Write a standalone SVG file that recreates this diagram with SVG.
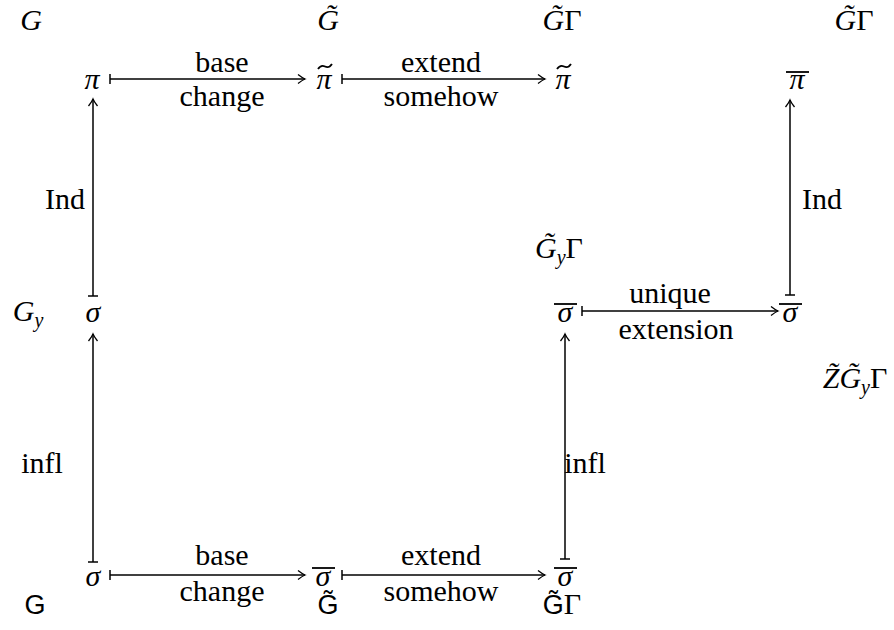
<svg xmlns="http://www.w3.org/2000/svg" width="894" height="630" viewBox="0 0 894 630">
<defs>
<style>
text{font-family:"Liberation Serif","DejaVu Serif",serif;font-size:30px;fill:#000;text-anchor:middle}
.m{font-style:italic}
.s{font-family:"Liberation Sans","DejaVu Sans",sans-serif;font-size:27px}
.sub{font-size:20px;font-style:italic}
.ln{stroke:#000;stroke-width:1.5;fill:none}
.acc{stroke:#000;stroke-width:1.8;fill:none}
</style>
<marker id="ah" markerWidth="12" markerHeight="12" refX="10" refY="6" orient="auto" markerUnits="userSpaceOnUse">
<path d="M3,1.5 Q7.5,5 10,6 Q7.5,7 3,10.5" fill="none" stroke="#000" stroke-width="1.3"/>
</marker>
<path id="tl" d="M-7,3 Q-4,-1.5 0,0.5 Q4,2.5 7,-2" class="acc"/>
</defs>
<rect width="894" height="630" fill="#fff"/>

<g id="group-labels">
<text class="m" x="31" y="30">G</text>
<text class="m" x="328" y="30">G̃</text>
<text x="562" y="30"><tspan class="m">G̃</tspan>Γ</text>
<text x="854" y="30"><tspan class="m">G̃</tspan>Γ</text>
<text class="m" x="28" y="321">G<tspan class="sub" dy="6">y</tspan></text>
<text x="559" y="258"><tspan class="m">G̃</tspan><tspan class="sub" dy="6">y</tspan><tspan dy="-6">Γ</tspan></text>
<text x="855" y="388"><tspan class="m">Z̃G̃</tspan><tspan class="sub" dy="6">y</tspan><tspan dy="-6">Γ</tspan></text>
<text class="s" x="35" y="614">G</text>
<text class="s" x="328" y="614">G̃</text>
<text x="562" y="614"><tspan class="s">G̃</tspan>Γ</text>
</g>

<g id="pi1"><text class="m" x="92" y="89">π</text></g>
<g id="pi2"><text class="m" x="324" y="89">π</text><use href="#tl" x="325" y="66"/></g>
<g id="pi3"><text class="m" x="563" y="89">π</text><use href="#tl" x="564" y="66"/></g>
<g id="pi4"><text class="m" x="797" y="89">π</text><path class="acc" d="M786,72 H809"/></g>

<g id="sigma1"><text class="m" x="93" y="322">σ</text></g>
<g id="sigma2"><text class="m" x="565" y="322">σ</text><path class="acc" d="M554,304 H577"/></g>
<g id="sigma3"><text class="m" x="790" y="322">σ</text><path class="acc" d="M779,304 H802"/></g>

<g id="sigma4"><text class="m" x="93" y="586">σ</text></g>
<g id="sigma5"><text class="m" x="323" y="586">σ</text><path class="acc" d="M312,568 H335"/></g>
<g id="sigma6"><text class="m" x="565" y="586">σ</text><path class="acc" d="M554,568 H577"/></g>

<g id="connectors">
<path class="ln" d="M110,79 H305" marker-end="url(#ah)"/><path class="ln" d="M110,74 V84"/>
<path class="ln" d="M342,79 H545" marker-end="url(#ah)"/><path class="ln" d="M342,74 V84"/>
<path class="ln" d="M93,296 V99" marker-end="url(#ah)"/><path class="ln" d="M88,296 H98"/>
<path class="ln" d="M790,295 V100" marker-end="url(#ah)"/><path class="ln" d="M785,295 H795"/>
<path class="ln" d="M582,311 H778" marker-end="url(#ah)"/><path class="ln" d="M582,306 V316"/>
<path class="ln" d="M93,562 V334" marker-end="url(#ah)"/><path class="ln" d="M88,562 H98"/>
<path class="ln" d="M565,559 V334" marker-end="url(#ah)"/><path class="ln" d="M560,559 H570"/>
<path class="ln" d="M110,575 H305" marker-end="url(#ah)"/><path class="ln" d="M110,570 V580"/>
<path class="ln" d="M342,575 H545" marker-end="url(#ah)"/><path class="ln" d="M342,570 V580"/>
</g>

<g id="arrow-labels">
<text x="222" y="72">base</text>
<text x="222" y="106">change</text>
<text x="441" y="72">extend</text>
<text x="441" y="106">somehow</text>
<text x="65" y="209">Ind</text>
<text x="822" y="209">Ind</text>
<text x="670" y="303">unique</text>
<text x="676" y="339">extension</text>
<text x="42" y="473">infl</text>
<text x="585" y="473">infl</text>
<text x="222" y="565">base</text>
<text x="222" y="601">change</text>
<text x="441" y="565">extend</text>
<text x="441" y="601">somehow</text>
</g>
</svg>
